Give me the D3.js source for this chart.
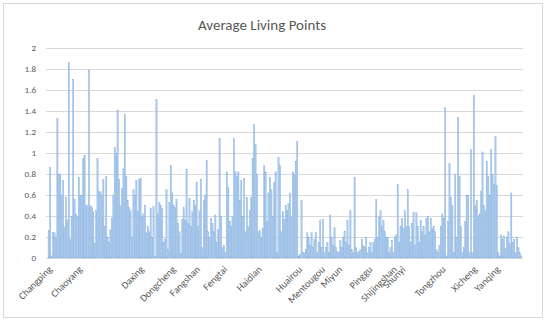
<!DOCTYPE html>
<html>
<head>
<meta charset="utf-8">
<script src="https://cdn.jsdelivr.net/npm/d3@7"></script>
<style>
  html, body { margin: 0; padding: 0; background: #fff; }
  svg { display: block; }
  text { font-family: Calibri, Carlito, Lato, "Open Sans", sans-serif; fill: #595959; }
</style>
</head>
<body>
<svg id="chart" width="550" height="323"></svg>
<script>
const title = "Average Living Points";
const districts = ["Changping","Chaoyang","Daxing","Dongcheng","Fangshan","Fengtai","Haidian","Huairou",
  "Mentougou","Miyun","Pinggu","Shijingshan","Shunyi","Tongzhou","Xicheng","Yanqing"];
const districtCounts = [21,43,22,17,19,24,28,16,12,21,17,6,28,22,16,18];
const avgPoints = [
  // Changping
  0.26,0.86,0.02,0.24,0.24,0.2,1.33,0.8,0.8,0.6,0.74,0.3,0.58,0.36,1.86,0.18,0.4,1.7,0.56,0.42,0.4,
  // Chaoyang
  0.77,0.6,0.6,0.95,0.98,0.5,0.5,1.79,0.5,0.48,0.44,0.14,0.45,0.95,0.63,0.63,0.6,0.75,0.3,0.78,0.2,0.15,0.27,0.38,0.6,1.05,1.0,1.41,0.75,0.5,0.66,0.85,1.37,0.78,0.55,0.48,0.45,0.2,0.65,0.6,0.74,0.44,0.75,
  // Daxing
  0.76,0.4,0.42,0.5,0.24,0.3,0.25,0.47,0.2,0.49,0.02,1.51,0.42,0.53,0.5,0.47,0.15,0.18,0.65,0.08,0.53,0.88,
  // Dongcheng
  0.62,0.5,0.48,0.56,0.33,0.25,0.04,0.37,0.48,0.36,0.84,0.33,0.57,0.3,0.44,0.55,0.5,
  // Fangshan
  0.72,0.3,0.45,0.75,0.1,0.55,0.6,0.93,0.25,0.2,0.38,0.33,0.25,0.41,0.15,0.27,1.14,0.4,0.1,
  // Fengtai
  0.12,0.05,0.82,0.67,0.35,0.3,0.4,1.14,0.82,0.78,0.82,0.55,0.74,0.4,0.76,0.25,0.58,0.3,0.45,0.58,0.95,1.27,1.08,0.8,
  // Haidian
  0.25,0.26,0.2,0.28,0.88,0.82,0.35,0.62,0.77,0.65,0.4,0.72,0.82,0.05,0.96,0.88,0.25,0.44,0.37,0.5,0.45,0.52,0.62,0.4,0.82,0.8,0.92,1.11,
  // Huairou
  0.02,0.03,0.55,0.05,0.05,0.08,0.24,0.2,0.12,0.24,0.1,0.18,0.24,0.05,0.15,0.36,
  // Mentougou
  0.1,0.37,0.05,0.1,0.15,0.05,0.41,0.2,0.12,0.29,0.1,0.06,
  // Miyun
  0.05,0.17,0.1,0.2,0.25,0.15,0.36,0.12,0.45,0.08,0.05,0.77,0.1,0.05,0.06,0.08,0.18,0.12,0.1,0.2,0.05,
  // Pinggu
  0.1,0.15,0.05,0.15,0.18,0.56,0.2,0.39,0.45,0.3,0.36,0.25,0.2,0.2,0.05,0.1,0.17,
  // Shijingshan
  0.05,0.2,0.22,0.7,0.15,0.3,
  // Shunyi
  0.38,0.28,0.45,0.3,0.65,0.3,0.15,0.33,0.43,0.12,0.43,0.3,0.15,0.36,0.25,0.3,0.22,0.38,0.4,0.25,0.38,0.28,0.3,0.25,0.08,0.05,0.12,0.3,
  // Tongzhou
  0.42,0.38,1.43,0.02,0.35,0.9,0.58,0.5,0.05,0.8,0.2,1.34,0.78,0.3,0.05,0.1,0.35,0.6,0.6,0.05,1.03,0.05,
  // Xicheng
  1.55,0.5,0.55,0.4,0.42,0.63,1.01,0.5,0.45,0.92,0.78,0.6,1.03,0.8,0.7,1.16,
  // Yanqing
  0.69,0.05,0.02,0.22,0.18,0.21,0.09,0.2,0.25,0.14,0.62,0.15,0.18,0.05,0.2,0.1,0.05,0.02
];
const yTicks = [0,0.2,0.4,0.6,0.8,1,1.2,1.4,1.6,1.8,2];

// category of each bar (district) and first index of each district
const barDistrict = [];
const districtStart = {};
districts.forEach((d, k) => {
  districtStart[barDistrict.length] = d;
  for (let j = 0; j < districtCounts[k]; j++) barDistrict.push(d);
});
const data = avgPoints.map((v, i) => ({ i, v, d: barDistrict[i] }));

const svg = d3.select("#chart");
const plot = { left: 48, right: 522, top: 48, bottom: 258 };

// chart border
svg.append("rect").attr("x", 3.5).attr("y", 3.5).attr("width", 539).attr("height", 314)
  .attr("fill", "#fff").attr("stroke", "#d9d9d9").attr("stroke-width", 1);

// title
svg.append("text").attr("x", 262).attr("y", 30).attr("text-anchor", "middle")
  .style("font-size", "15px").text(title);

const x = d3.scaleBand().domain(d3.range(avgPoints.length)).range([plot.left, plot.right]).padding(0);
const y = d3.scaleLinear().domain([0, 2]).range([plot.bottom, plot.top]);

// y axis with gridlines
const yAxis = svg.append("g").attr("transform", `translate(${plot.left - 2},0)`)
  .call(d3.axisLeft(y).tickValues(yTicks).tickFormat(d3.format("~g")).tickSize(-(plot.right - plot.left + 3)).tickPadding(10));
yAxis.select(".domain").remove();
yAxis.selectAll(".tick line").attr("stroke", "#d9d9d9").attr("stroke-width", 1);
yAxis.selectAll(".tick text").style("font-size", "9px").attr("fill", "#595959").style("font-family", "Calibri, Carlito, Lato, sans-serif");

// bars
svg.append("g").selectAll("rect").data(data).join("rect")
  .attr("x", d => x(d.i))
  .attr("width", x.bandwidth())
  .attr("y", d => y(d.v))
  .attr("height", d => y(0) - y(d.v))
  .attr("fill", "#a9c8eb")
  .attr("stroke", "#7eabdc")
  .attr("stroke-width", 0.25);

// x axis with district labels at first bar of each district
const starts = Object.keys(districtStart).map(Number);
const xAxis = svg.append("g").attr("transform", `translate(0,${plot.bottom})`)
  .call(d3.axisBottom(x).tickValues(starts).tickFormat(i => districtStart[i]).tickSize(0).tickPadding(0));
xAxis.select(".domain").attr("stroke", "#d9d9d9");
xAxis.selectAll(".tick text")
  .style("font-size", "10px").attr("fill", "#595959")
  .style("font-family", "Calibri, Carlito, Lato, sans-serif")
  .attr("text-anchor", "end")
  .attr("dy", null)
  .attr("transform", "translate(4,12) rotate(-45)");
</script>
</body>
</html>
